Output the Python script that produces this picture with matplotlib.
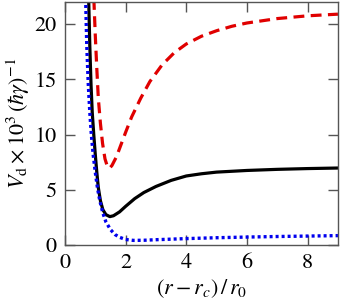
import matplotlib
matplotlib.use('Agg')
import matplotlib.pyplot as plt

plt.rcParams['font.family'] = ['STIXGeneral', 'Liberation Serif', 'DejaVu Serif']
plt.rcParams['mathtext.fontset'] = 'stix'

# solid black curve
x_black = [0.78, 0.82, 0.86, 0.90, 0.95, 1.00, 1.05, 1.10, 1.17, 1.25, 1.35, 1.48,
           1.60, 1.80, 2.00, 2.30, 2.60, 3.00, 3.50, 4.00, 4.50, 5.00, 6.00, 7.00, 8.00, 9.00]
y_black = [22.5, 18.0, 14.5, 12.0, 10.0, 8.2, 6.6, 5.2, 4.0, 3.2, 2.75, 2.57,
           2.65, 3.0, 3.5, 4.2, 4.75, 5.3, 5.85, 6.25, 6.45, 6.6, 6.75, 6.85, 6.92, 6.97]

# dashed red curve
x_red = [0.95, 1.00, 1.05, 1.10, 1.17, 1.24, 1.32, 1.40, 1.47, 1.55, 1.70, 1.85, 2.00,
         2.20, 2.50, 2.80, 3.20, 3.60, 4.00, 4.50, 5.00, 5.50, 6.00, 7.00, 8.00, 9.00]
y_red = [22.5, 19.0, 16.0, 13.3, 11.0, 9.2, 7.8, 7.1, 6.95, 7.2, 8.0, 9.1, 10.2,
         11.6, 13.3, 14.8, 16.3, 17.4, 18.2, 18.9, 19.4, 19.8, 20.1, 20.5, 20.75, 20.9]

# dotted blue curve
x_blue = [0.68, 0.72, 0.77, 0.82, 0.87, 0.93, 1.00, 1.07, 1.15, 1.25, 1.35, 1.50,
          1.65, 1.80, 2.00, 2.25, 2.60, 3.00, 4.00, 5.00, 6.00, 7.00, 8.00, 9.00]
y_blue = [22.5, 18.0, 14.5, 12.0, 10.0, 8.2, 6.6, 5.2, 4.0, 2.9, 2.1, 1.4,
          0.95, 0.7, 0.5, 0.42, 0.43, 0.48, 0.58, 0.66, 0.72, 0.77, 0.81, 0.85]

xticks = [0, 2, 4, 6, 8]
yticks = [0, 5, 10, 15, 20]

fig = plt.figure(figsize=(3.4, 3.08), dpi=100)
ax = fig.add_axes([0.191, 0.2045, 0.803, 0.789])

ax.plot(x_red, y_red, color='#e00000', lw=2.3, linestyle=(0, (3.4, 2.0)))
ax.plot(x_black, y_black, color='black', lw=2.3)
ax.plot(x_blue, y_blue, color='#0000ee', lw=2.4, linestyle=(0, (0.9, 0.9)))

ax.set_xlim(0, 9)
ax.set_ylim(0, 22)
ax.set_xticks(xticks)
ax.set_yticks(yticks)
ax.tick_params(direction='in', length=7, width=1, color='#555555',
               top=True, right=True, labelsize=16, pad=6)
for s in ax.spines.values():
    s.set_color('#555555')
    s.set_linewidth(1)

ax.set_xlabel(r'$(r - r_c)\,/\,r_0$', fontsize=16, labelpad=3)
ax.set_ylabel(r'$V_\mathrm{d}\times 10^3\,(\hbar\gamma)^{-1}$', fontsize=16, labelpad=2)

fig.savefig('out.png', dpi=100)
